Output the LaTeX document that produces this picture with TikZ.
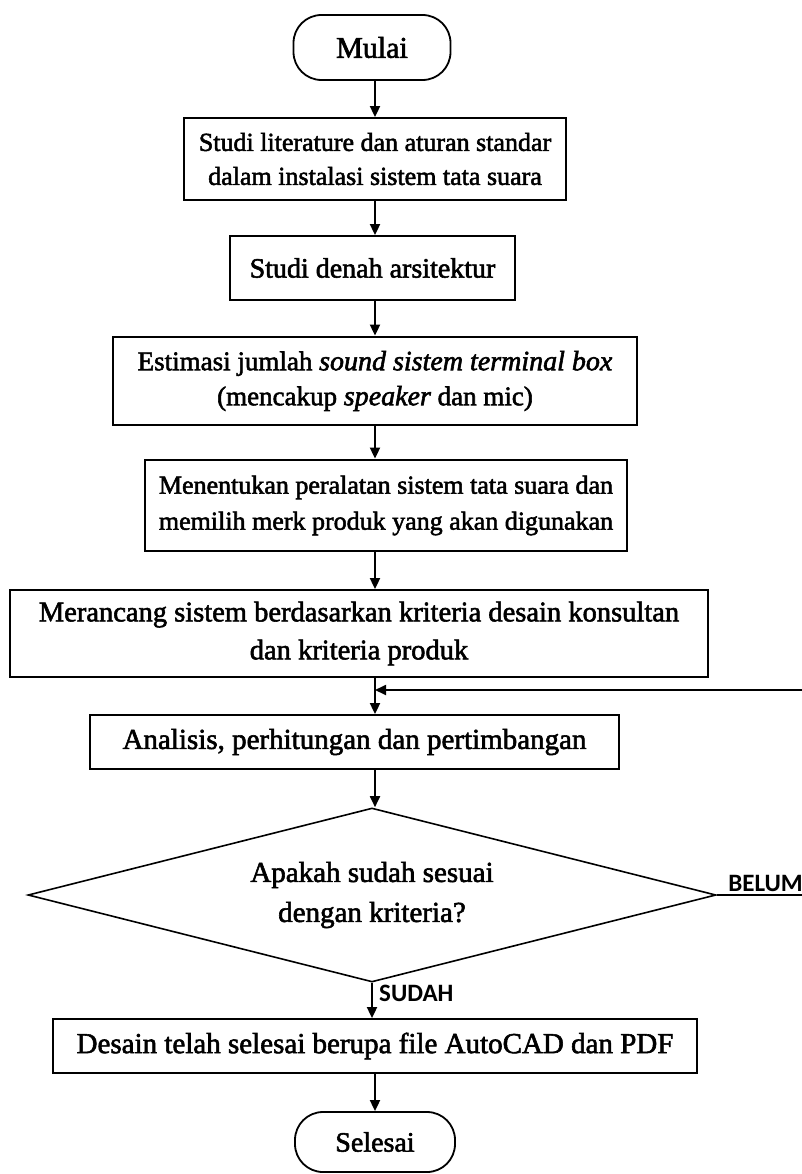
\documentclass[tikz,border=0pt]{standalone}
\usepackage{fontspec}
\setmainfont{Liberation Serif}[FakeBold=2]
\newfontfamily\labelfont{Carlito}
\usetikzlibrary{arrows.meta,shapes.geometric}

\begin{document}
\begin{tikzpicture}[x=1pt,y=-1pt,
  proses/.style={draw,line width=1.8pt,align=center,inner sep=0pt,font=\fontsize{28}{36}\selectfont},
  tebal/.style={proses,line width=2.8pt},
  terminal/.style={proses,rounded corners=28pt},
  keputusan/.style={draw,diamond,aspect=3.95,line width=1.6pt,inner sep=0pt,align=center,font=\fontsize{29}{40}\selectfont},
  panah/.style={-{Triangle[length=11pt,width=10pt]},line width=1.8pt},
  jawab/.style={font=\labelfont\bfseries\fontsize{25}{25}\selectfont,inner sep=0pt}]
 \useasboundingbox (0,0) rectangle (802,1174);
 \coordinate (spine) at (375,0);

 \draw (372,47.5) node[terminal,minimum width=157pt,minimum height=65pt,font=\fontsize{30}{36}\selectfont] (mulai) {Mulai};
 \draw (375,159) node[proses,minimum width=382pt,minimum height=82pt,font=\fontsize{26}{34}\selectfont] (studi) {Studi literature dan aturan standar\\dalam instalasi sistem tata suara};
 \draw (372.5,268) node[proses,minimum width=285pt,minimum height=64pt] (denah) {Studi denah arsitektur};
 \draw (375,381) node[tebal,minimum width=524pt,minimum height=88pt,font=\fontsize{27}{35}\selectfont] (estimasi) {Estimasi jumlah {\fontsize{28}{35}\selectfont\itshape sound sistem terminal box}\\(mencakup {\fontsize{28}{35}\selectfont\itshape speaker} dan mic)};
 \draw (386,505.5) node[tebal,minimum width=482pt,minimum height=91pt,font=\fontsize{26}{36}\selectfont] (alat) {Menentukan peralatan sistem tata suara dan\\memilih merk produk yang akan digunakan};
 \draw (359,633.5) node[proses,minimum width=698pt,minimum height=87pt,font=\fontsize{28.5}{38}\selectfont] (rancang) {Merancang sistem berdasarkan kriteria desain konsultan\\dan kriteria produk};
 \draw (354.5,742) node[proses,minimum width=529pt,minimum height=54pt,font=\fontsize{29}{36}\selectfont] (analisis) {Analisis, perhitungan dan pertimbangan};
 \draw (372,895) node[keputusan,minimum width=688pt,minimum height=174pt] (cek) {Apakah sudah sesuai\\dengan kriteria?};
 \draw (375,1046) node[proses,minimum width=644pt,minimum height=54pt,font=\fontsize{29}{36}\selectfont] (desain) {Desain telah selesai berupa file AutoCAD dan PDF};
 \draw (375,1142) node[terminal,minimum width=160pt,minimum height=60pt] (selesai) {Selesai};

 \draw (803,892) node[jawab,anchor=south east] (belum) {BELUM};
 \draw (379,985) node[jawab,anchor=north west] (sudah) {SUDAH};

 % alur utama
 \path[panah] (mulai.south -| spine) edge (studi.north -| spine);
 \path[panah] (studi.south -| spine) edge (denah.north -| spine);
 \path[panah] (denah.south -| spine) edge (estimasi.north -| spine);
 \path[panah] (estimasi.south -| spine) edge (alat.north -| spine);
 \path[panah] (alat.south -| spine) edge (rancang.north -| spine);
 \path[panah] (rancang.south -| spine) edge (analisis.north -| spine);
 \path[panah] (analisis.south -| spine) edge (cek.north -| spine);
 \path[panah] (cek.south) edge (desain.north -| cek.south);
 \path[panah] (desain.south -| spine) edge (selesai.north -| spine);

 % kembali bila belum sesuai
 \coordinate (kanan) at (808,895);
 \coordinate (balik) at (375,690);
 \draw[panah] (cek.east) -- (kanan) |- (balik);
\end{tikzpicture}
\end{document}
